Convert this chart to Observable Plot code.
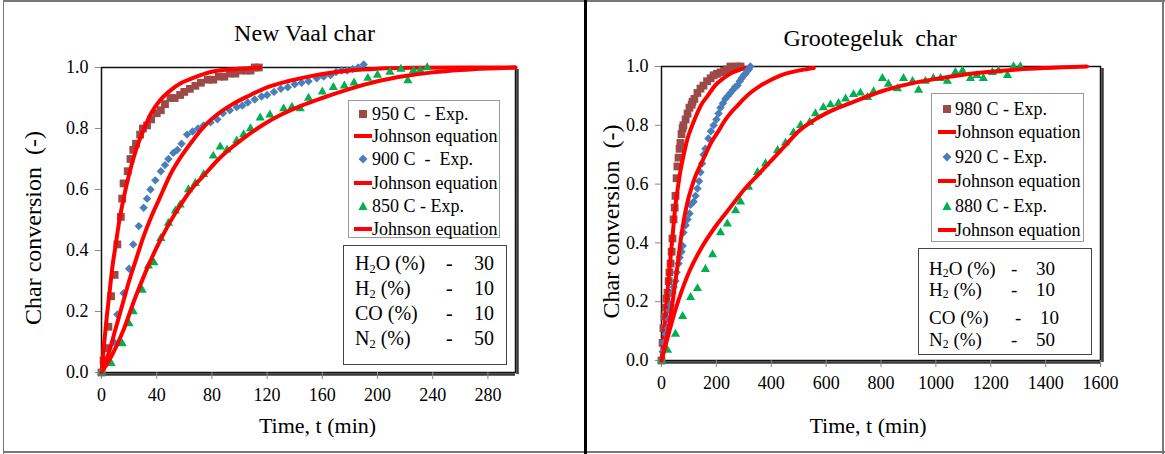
<!DOCTYPE html>
<html><head><meta charset="utf-8">
<script src="https://cdn.jsdelivr.net/npm/d3@7"></script>
<script src="https://cdn.jsdelivr.net/npm/@observablehq/plot@0.6"></script>
<style>
body{margin:0;background:#fff;}
#wrap{position:relative;width:1165px;height:454px;overflow:hidden;font-family:"Liberation Serif","Times New Roman",serif;color:#000;background:#fff;}
.panel{position:absolute;top:0;}
.line{position:absolute;}
.box{position:absolute;background:#fff;box-sizing:border-box;}
.row{position:absolute;white-space:pre;line-height:1;transform:translateY(-50%);}
.row sub{font-size:0.62em;vertical-align:-0.25em;line-height:0;}
svg text{white-space:pre;}
</style>
</head><body>
<div id="wrap"></div>
<script>
// ---------- data ----------
const yTicks = [0, 0.2, 0.4, 0.6, 0.8, 1.0];
const nvXTicks = [0, 40, 80, 120, 160, 200, 240, 280];
const grXTicks = [0, 200, 400, 600, 800, 1000, 1200, 1400, 1600];

// New Vaal char (time min, conversion)
const nv950Exp = [[0,0],[1.5,0.04],[3,0.08],[5,0.15],[7,0.25],[9.5,0.32],[11.5,0.42],[14,0.51],[15,0.57],[16,0.62],[19,0.66],[21,0.70],[23,0.73],[25,0.75],[28,0.78],[30,0.80],[33,0.81],[36,0.83],[40,0.85],[43,0.86],[46,0.88],[50,0.90],[53,0.90],[57,0.91],[60,0.92],[64,0.93],[68,0.94],[72,0.95],[77,0.96],[81,0.96],[85,0.97],[89,0.97],[93,0.98],[97,0.98],[101,0.99],[105,0.99],[108,0.99],[111,1.0],[114,1.0]];
const nv950Fit = [[0,0],[2,0.10],[4,0.19],[6,0.27],[8,0.35],[10,0.41],[13,0.50],[16,0.57],[20,0.65],[25,0.73],[30,0.79],[36,0.85],[42,0.89],[50,0.925],[58,0.95],[66,0.965],[75,0.98],[85,0.99],[95,0.994],[105,0.997],[115,1.0]];
const nv900Exp = [[0,0],[4,0.03],[9,0.10],[11.5,0.19],[16,0.26],[20,0.34],[23,0.42],[27,0.48],[30.5,0.54],[33,0.57],[35.5,0.60],[39,0.63],[43,0.66],[46,0.68],[48.5,0.70],[52,0.72],[55,0.73],[58,0.75],[62,0.78],[66,0.79],[70,0.80],[74,0.81],[79,0.82],[84,0.83],[88,0.85],[93,0.86],[98,0.87],[102,0.875],[106,0.885],[111,0.895],[116,0.905],[120,0.91],[125,0.92],[130,0.93],[135,0.935],[140,0.945],[145,0.95],[150,0.955],[156,0.965],[161,0.97],[166,0.975],[170,0.985],[174,0.99],[178,0.99],[182,0.995],[186,1.0],[190,1.01]];
const nv900Fit = [[0,0],[5,0.06],[10,0.14],[15,0.22],[20,0.30],[25,0.37],[30,0.44],[36,0.51],[42,0.57],[50,0.65],[58,0.71],[66,0.76],[75,0.81],[85,0.85],[95,0.88],[108,0.91],[120,0.935],[135,0.955],[150,0.97],[165,0.982],[180,0.99],[200,0.996],[225,0.999],[260,1.0],[300,1.0]];
const nv850Exp = [[0,0],[7,0.03],[15,0.095],[20,0.16],[23,0.20],[29.5,0.27],[34,0.35],[38,0.36],[43,0.44],[48.5,0.49],[53.5,0.53],[57,0.55],[63,0.60],[68,0.62],[74,0.65],[81,0.71],[86,0.74],[91,0.73],[98,0.76],[103,0.78],[108,0.80],[115,0.835],[122,0.845],[132,0.865],[138,0.87],[144,0.865],[150,0.90],[160,0.92],[168,0.935],[176,0.94],[183,0.95],[193,0.965],[200,0.975],[209,0.985],[217,0.995],[222,0.957],[226,0.99],[231,0.99],[236,1.0]];
const nv850Fit = [[0,0],[8,0.06],[16,0.14],[24,0.24],[32,0.33],[40,0.41],[48,0.48],[56,0.54],[65,0.60],[75,0.65],[85,0.70],[95,0.74],[105,0.775],[118,0.815],[130,0.845],[145,0.875],[160,0.90],[180,0.93],[200,0.955],[220,0.972],[240,0.984],[260,0.992],[280,0.997],[300,1.0]];

// Grootegeluk char
const gr980Exp = [[0,0],[4,0.06],[7,0.11],[11,0.15],[15,0.18],[18,0.21],[22,0.23],[26,0.27],[29,0.30],[33,0.33],[37,0.37],[40,0.415],[44,0.48],[48,0.52],[51,0.56],[55,0.62],[58,0.66],[62,0.69],[66,0.72],[69,0.74],[73,0.77],[77,0.79],[80,0.80],[88,0.82],[95,0.84],[102,0.86],[110,0.87],[113,0.88],[120,0.89],[131,0.91],[142,0.925],[153,0.935],[166,0.95],[179,0.96],[190,0.97],[202,0.975],[215,0.98],[228,0.985],[240,0.99],[251,1.0],[263,0.995],[275,1.0],[288,1.0]];
const gr980Fit = [[0,0],[8,0.08],[16,0.17],[24,0.26],[32,0.34],[40,0.42],[50,0.52],[60,0.59],[70,0.65],[81,0.70],[95,0.755],[110,0.795],[125,0.83],[145,0.87],[168,0.90],[195,0.935],[226,0.96],[255,0.978],[288,0.99],[317,0.997]];
const gr920Exp = [[0,0],[4,0.03],[7,0.06],[15,0.09],[22,0.11],[26,0.14],[29,0.17],[33,0.19],[40,0.23],[44,0.25],[51,0.27],[55,0.30],[62,0.33],[66,0.35],[73,0.37],[77,0.39],[80,0.435],[88,0.46],[95,0.48],[102,0.50],[106,0.53],[117,0.54],[124,0.56],[131,0.585],[137,0.61],[142,0.64],[148,0.67],[153,0.70],[160,0.72],[171,0.755],[180,0.78],[190,0.80],[200,0.82],[208,0.84],[215,0.86],[224,0.875],[233,0.89],[242,0.90],[251,0.91],[260,0.92],[268,0.93],[277,0.935],[285,0.95],[292,0.96],[300,0.97],[306,0.975],[312,0.985],[318,0.99],[324,1.0]];
const gr920Fit = [[0,0],[10,0.04],[22,0.09],[33,0.15],[45,0.23],[58,0.32],[70,0.41],[80,0.47],[95,0.54],[110,0.59],[125,0.63],[142,0.665],[160,0.70],[180,0.74],[204,0.775],[230,0.815],[255,0.845],[277,0.867],[300,0.89],[330,0.915],[361,0.935],[400,0.955],[435,0.97],[470,0.98],[510,0.988],[555,0.995]];
const gr880Exp = [[0,0],[22,0.035],[51,0.09],[77,0.15],[106,0.215],[131,0.245],[160,0.31],[186,0.36],[215,0.435],[240,0.465],[270,0.51],[288,0.54],[317,0.59],[350,0.64],[379,0.67],[423,0.715],[452,0.74],[481,0.775],[507,0.80],[540,0.81],[561,0.84],[590,0.86],[616,0.87],[645,0.875],[671,0.89],[700,0.905],[725,0.91],[751,0.895],[773,0.915],[805,0.96],[827,0.94],[860,0.925],[882,0.96],[915,0.95],[937,0.92],[962,0.95],[991,0.96],[1017,0.96],[1042,0.95],[1071,0.98],[1097,0.985],[1126,0.96],[1150,0.97],[1173,0.96],[1206,0.98],[1228,0.985],[1261,0.97],[1283,1.0],[1308,1.0]];
const gr880Fit = [[0,0],[20,0.07],[50,0.17],[100,0.30],[150,0.39],[200,0.46],[250,0.52],[300,0.58],[350,0.63],[400,0.68],[450,0.73],[500,0.78],[560,0.82],[620,0.85],[700,0.88],[800,0.915],[900,0.94],[1000,0.958],[1100,0.972],[1200,0.982],[1300,0.99],[1400,0.995],[1550,1.0]];

const nvLegendLabels = ["950 C  - Exp.", "Johnson equation", "900 C  -  Exp.", "Johnson equation", "850 C - Exp.", "Johnson equation"];
const grLegendLabels = ["980 C - Exp.", "Johnson equation", "920 C - Exp.", "Johnson equation", "880 C - Exp.", "Johnson equation"];
const legendKinds = ["square", "line", "diamond", "line", "triangle", "line"];
const gasNames = ["H2O", "H2", "CO", "N2"];
const gasValues = [30, 10, 10, 50];

// ---------- styles ----------
const COL = {square: "#9c4a48", diamond: "#4a7ebb", triangle: "#00b050", line: "#ff0000"};
const SYM = {square: {symbol: "square", r: 4.4}, diamond: {symbol: "diamond2", r: 3.8}, triangle: {symbol: "triangle", r: 3.4}};

function seriesMarks(list) {
  const marks = [];
  for (const [kind, exp, fit] of list) {
    marks.push(Plot.dot(exp, {x: d => d[0], y: d => d[1], symbol: SYM[kind].symbol, r: SYM[kind].r, fill: COL[kind], stroke: "none"}));
    marks.push(Plot.line(fit, {x: d => d[0], y: d => d[1], stroke: COL.line, strokeWidth: 4, curve: "monotone-x"}));
  }
  return marks;
}

function panel(cfg) {
  const svg = Plot.plot({
    width: cfg.width, height: 454,
    marginLeft: cfg.ml, marginRight: cfg.mr, marginTop: cfg.mt, marginBottom: cfg.mb,
    x: {domain: [0, cfg.xmax]},
    y: {domain: [0, 1]},
    style: {fontFamily: "'Liberation Serif', 'Times New Roman', serif", fontSize: "18px", background: "transparent", color: "#000", overflow: "visible"},
    marks: [
      Plot.ruleY([0], {stroke: "#3a3a3a", strokeWidth: 2.5, dy: 2}),
      Plot.ruleX([cfg.xmax], {stroke: "#3a3a3a", strokeWidth: 2.5, dx: 2, dy: 2}),
      Plot.frame({stroke: "#111", strokeWidth: 1.5}),
      Plot.axisX({ticks: cfg.xTicks, tickSize: 7, tickPadding: 9, stroke: "#888", fill: "#000", tickFormat: d => String(d), label: null}),
      Plot.axisY({ticks: yTicks, tickSize: 6, tickPadding: 7, stroke: "#888", fill: "#000", tickFormat: d => d.toFixed(1), label: null}),
      ...seriesMarks(cfg.series),
      Plot.text([cfg.title], {text: d => d, frameAnchor: "top", lineAnchor: "middle", textAnchor: "middle", dx: cfg.titleDx, dy: cfg.titleDy, fontSize: 24, fill: "#000"}),
      Plot.text(["Time, t (min)"], {text: d => d, frameAnchor: "bottom", lineAnchor: "middle", textAnchor: "middle", dx: cfg.xlDx, dy: cfg.xlDy, fontSize: 22, fill: "#000"}),
      Plot.text(["Char conversion  (-)"], {text: d => d, frameAnchor: "left", lineAnchor: "middle", textAnchor: "middle", rotate: -90, dx: cfg.ylDx, dy: cfg.ylDy, fontSize: 24, fill: "#000"})
    ]
  });
  svg.classList.add("panel");
  svg.style.left = cfg.left + "px";
  return svg;
}

const wrap = document.getElementById("wrap");

wrap.appendChild(panel({
  left: 0, width: 585, ml: 101, mr: 70, mt: 67, mb: 82, xmax: 300, xTicks: nvXTicks,
  series: [["square", nv950Exp, nv950Fit], ["diamond", nv900Exp, nv900Fit], ["triangle", nv850Exp, nv850Fit]],
  title: "New Vaal char", titleDx: -4, titleDy: -34, xlDx: 9, xlDy: 53, ylDx: -68, ylDy: 8
}));
wrap.appendChild(panel({
  left: 587, width: 578, ml: 74, mr: 65, mt: 66, mb: 94, xmax: 1600, xTicks: grXTicks,
  series: [["square", gr980Exp, gr980Fit], ["diamond", gr920Exp, gr920Fit], ["triangle", gr880Exp, gr880Fit]],
  title: "Grootegeluk  char", titleDx: -11, titleDy: -28, xlDx: -13, xlDy: 65, ylDx: -50, ylDy: 8
}));

// ---------- frame lines of the figure ----------
function addLine(l, t, w, h, c) {
  const d = document.createElement("div");
  d.className = "line";
  Object.assign(d.style, {left: l + "px", top: t + "px", width: w + "px", height: h + "px", background: c});
  wrap.appendChild(d);
}
addLine(3, 0, 1, 454, "#777");
addLine(3, 0, 1162, 1.5, "#777");
addLine(3, 451, 1162, 1.5, "#777");
addLine(1162, 0, 1.5, 454, "#777");
addLine(584, 0, 3, 454, "#000");

// ---------- legends ----------
function symbolSvg(kind) {
  const c = COL[kind];
  let inner;
  if (kind === "line") inner = `<line x1="0" y1="6" x2="18" y2="6" stroke="${c}" stroke-width="4"/>`;
  else if (kind === "square") inner = `<rect x="5" y="2" width="8" height="8" fill="${c}"/>`;
  else if (kind === "diamond") inner = `<path d="M9,1.5 L13.5,6 L9,10.5 L4.5,6 Z" fill="${c}"/>`;
  else inner = `<path d="M9,1.5 L13.5,10 L4.5,10 Z" fill="${c}"/>`;
  return `<svg width="18" height="12" style="display:block">${inner}</svg>`;
}
function legendBox(left, top, w, h, labels, rowYs, symX, textX) {
  const box = document.createElement("div");
  box.className = "box";
  Object.assign(box.style, {left: left + "px", top: top + "px", width: w + "px", height: h + "px", border: "1px solid #999", fontSize: "18px"});
  labels.forEach((lab, i) => {
    const s = document.createElement("div");
    s.className = "row";
    s.style.left = symX + "px"; s.style.top = rowYs[i] + "px";
    s.innerHTML = symbolSvg(legendKinds[i]);
    box.appendChild(s);
    const t = document.createElement("div");
    t.className = "row";
    t.style.left = textX + "px"; t.style.top = rowYs[i] + "px";
    t.textContent = lab;
    box.appendChild(t);
  });
  wrap.appendChild(box);
}
legendBox(348, 100, 152, 138, nvLegendLabels, [13, 35, 58, 82, 105, 128], 5, 23);
legendBox(931, 93, 153, 149, grLegendLabels, [15, 38, 63, 87, 112, 136], 6, 23);

function gasHtml(name) {
  return name.replace(/(\d)/g, "<sub>$1</sub>") + " (%)";
}
function compBox(left, top, w, h, fs, rowYs, labelX, dashXs, valueRights) {
  const box = document.createElement("div");
  box.className = "box";
  Object.assign(box.style, {left: left + "px", top: top + "px", width: w + "px", height: h + "px", border: "1.5px solid #444", fontSize: fs + "px"});
  gasNames.forEach((g, i) => {
    const a = document.createElement("div");
    a.className = "row"; a.style.left = labelX + "px"; a.style.top = rowYs[i] + "px";
    a.innerHTML = gasHtml(g);
    box.appendChild(a);
    const b = document.createElement("div");
    b.className = "row"; b.style.left = dashXs[i] + "px"; b.style.top = rowYs[i] + "px";
    b.textContent = "-";
    box.appendChild(b);
    const c = document.createElement("div");
    c.className = "row"; c.style.right = valueRights[i] + "px"; c.style.top = rowYs[i] + "px";
    c.textContent = String(gasValues[i]);
    box.appendChild(c);
  });
  wrap.appendChild(box);
}
compBox(343, 245, 164, 120, 20, [17, 42, 67, 92], 11, [102, 102, 102, 102], [12, 12, 12, 12]);
compBox(918, 248, 174, 107, 19, [19, 40, 68, 90], 10, [92, 92, 96, 92], [36, 36, 32, 36]);
</script>
</body></html>
